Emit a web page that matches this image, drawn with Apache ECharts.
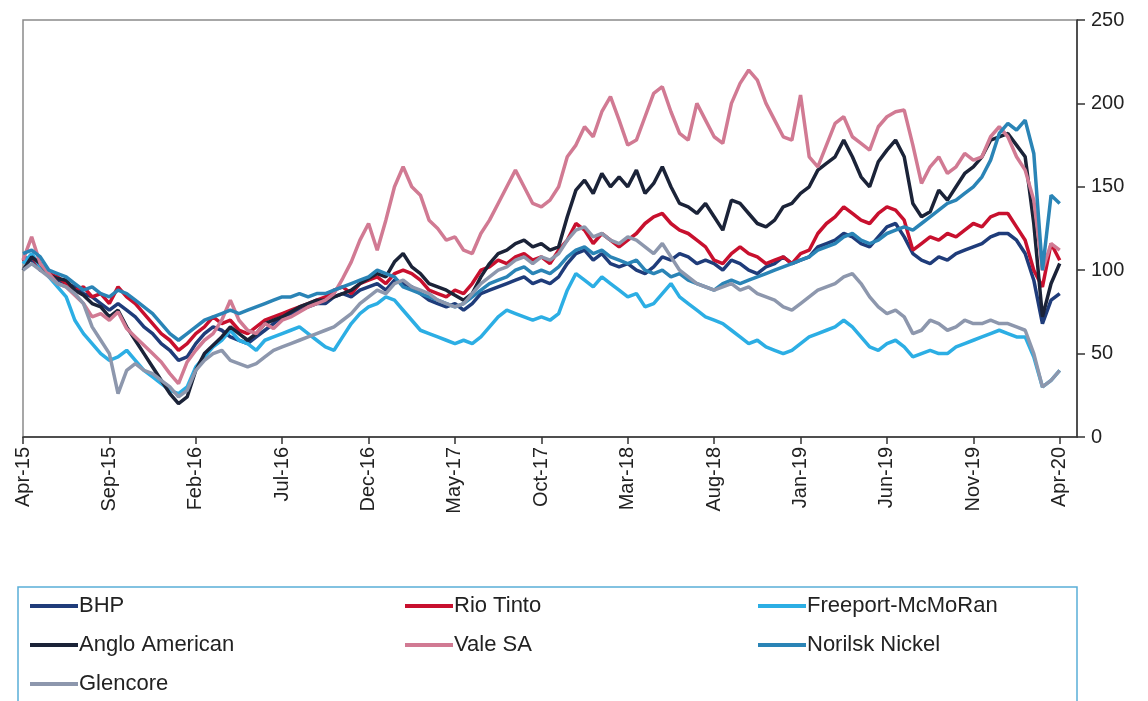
<!DOCTYPE html>
<html>
<head>
<meta charset="utf-8">
<script src="https://cdn.jsdelivr.net/npm/echarts@6/dist/echarts.min.js"></script>
<style>
html,body{margin:0;padding:0;background:#fff;}
#chart{width:1148px;height:701px;}
</style>
</head>
<body>
<div id="chart"></div>
<script>
// Half-month categories from Apr-15 to May-20
const monthNames = ['Jan','Feb','Mar','Apr','May','Jun','Jul','Aug','Sep','Oct','Nov','Dec'];
const categories = [];
for (let k = 0; k <= 122; k++) {
  const mi = 3 + Math.floor(k / 2);
  const yr = 2015 + Math.floor(mi / 12);
  categories.push(monthNames[mi % 12] + '-' + String(yr).slice(2) + (k % 2 ? ' (b)' : ''));
}
const tickLabels = ['Apr-15','Sep-15','Feb-16','Jul-16','Dec-16','May-17','Oct-17','Mar-18','Aug-18','Jan-19','Jun-19','Nov-19','Apr-20'];

const seriesNames = ['BHP','Rio Tinto','Freeport-McMoRan','Anglo American','Vale SA','Norilsk Nickel','Glencore'];

const bhp = [108,106,100,98,94,92,90,86,84,80,76,80,76,72,66,62,56,52,46,48,
  56,62,66,64,60,58,56,60,64,68,72,74,76,78,80,80,84,86,84,88,
  90,92,88,94,92,90,86,82,80,78,80,76,80,86,88,90,92,94,96,92,
  94,92,96,104,110,112,106,110,104,102,104,100,98,102,108,106,110,108,104,106,
  104,100,106,104,100,98,102,104,108,104,106,108,114,116,118,122,120,116,114,120,
  126,128,120,110,106,104,108,106,110,112,114,116,120,122,122,118,110,94,68,82,86];

const rioTinto = [105,108,102,98,96,92,88,90,84,86,80,90,84,80,74,68,62,58,52,56,
  62,66,72,68,70,64,62,66,70,72,74,76,78,80,82,84,88,90,86,92,
  94,96,92,98,100,98,94,88,86,84,88,86,92,100,102,106,104,108,110,106,
  108,104,112,118,128,124,116,122,118,114,118,122,128,132,134,128,124,122,118,114,
  106,104,110,114,110,108,104,106,108,104,110,112,122,128,132,138,134,130,128,134,
  138,136,130,112,116,120,118,122,120,124,128,126,132,134,134,126,118,100,90,116,106];

const freeport = [104,110,102,96,90,84,70,62,56,50,46,48,52,46,40,36,32,28,26,30,
  42,48,54,58,64,58,56,52,58,60,62,64,66,62,58,54,52,60,68,74,
  78,80,84,82,76,70,64,62,60,58,56,58,56,60,66,72,76,74,72,70,
  72,70,74,88,98,94,90,96,92,88,84,86,78,80,86,92,84,80,76,72,
  70,68,64,60,56,58,54,52,50,52,56,60,62,64,66,70,66,60,54,52,
  56,58,54,48,50,52,50,50,54,56,58,60,62,64,62,60,60,48,30,34,40];

const angloAmerican = [100,108,104,97,95,94,88,85,80,78,72,76,66,58,50,42,34,26,20,24,
  40,50,55,60,66,62,58,62,68,70,72,75,78,80,82,82,84,86,88,92,
  95,98,96,105,110,102,98,92,90,88,85,82,86,96,104,110,112,116,118,114,
  116,112,114,132,148,154,146,158,150,156,150,160,146,152,162,150,140,138,134,140,
  132,124,142,140,134,128,126,130,138,140,146,150,160,164,168,178,168,156,150,165,
  172,178,168,140,132,135,148,142,150,158,162,168,178,180,182,175,168,128,72,92,104];

const valeSA = [106,120,104,98,92,90,85,80,72,74,70,75,65,60,55,50,45,38,32,45,
  52,58,62,70,82,70,64,62,68,65,70,72,75,78,80,82,86,95,105,118,
  128,112,130,150,162,150,145,130,125,118,120,112,110,122,130,140,150,160,150,140,
  138,142,150,168,175,186,180,195,204,190,175,178,192,206,210,195,182,178,200,190,
  180,176,200,212,220,214,200,190,180,178,205,168,162,175,188,192,180,176,172,186,
  192,195,196,175,152,162,168,158,162,170,166,168,180,186,180,168,160,142,100,116,112];

const norilsk = [110,112,108,100,98,96,92,88,90,86,84,88,86,82,78,74,68,62,58,62,
  66,70,72,74,76,74,76,78,80,82,84,84,86,84,86,86,88,90,92,94,
  96,100,98,96,90,88,86,84,82,80,78,80,84,88,92,94,96,100,102,98,
  100,98,102,108,112,114,110,112,108,106,104,106,100,98,100,96,98,94,92,90,
  88,92,94,92,94,96,98,100,102,104,106,108,112,114,116,120,122,118,116,118,
  122,124,126,124,128,132,136,140,142,146,150,156,166,182,188,184,190,170,100,145,140];

const glencore = [100,104,100,96,92,90,86,80,66,58,50,26,40,44,40,38,34,30,24,28,
  40,46,50,52,46,44,42,44,48,52,54,56,58,60,62,64,66,70,74,80,
  84,88,86,92,94,90,88,86,82,80,78,80,86,92,96,100,102,106,108,104,
  108,106,110,118,124,126,120,122,118,116,120,118,114,110,116,108,100,96,92,90,
  88,90,92,88,90,86,84,82,78,76,80,84,88,90,92,96,98,92,84,78,
  74,76,72,62,64,70,68,64,66,70,68,68,70,68,68,66,64,50,30,34,40];

const seriesData = [bhp, rioTinto, freeport, angloAmerican, valeSA, norilsk, glencore];
const seriesColors = ['#1F3C7A','#C8102E','#2CAEE4','#1B2338','#D17A93','#2A84B6','#8D97AD'];

const font = "'Liberation Sans', Arial, sans-serif";
const chart = echarts.init(document.getElementById('chart'), null, {renderer: 'canvas'});

const legendStyle = {
  icon: 'rect',
  itemWidth: 48,
  itemHeight: 4,
  orient: 'vertical',
  itemGap: 17,
  padding: 0,
  height: 140,
  textStyle: {fontFamily: font, fontSize: 22, color: '#222', padding: [0, 0, 0, -4]},
  top: 595
};

chart.setOption({
  animation: false,
  backgroundColor: '#fff',
  grid: {left: 23, right: 71, top: 20, bottom: 264, show: true, borderColor: '#8a8a8a', borderWidth: 1.5, backgroundColor: 'transparent'},
  xAxis: {
    type: 'category',
    data: categories,
    boundaryGap: false,
    axisLine: {show: true, lineStyle: {color: '#333', width: 1.5}},
    axisTick: {show: true, length: 7, lineStyle: {color: '#333', width: 1.5}, interval: function (i) { return i % 10 === 0 && i <= 120; }},
    axisLabel: {
      rotate: 90,
      margin: 10,
      fontFamily: font,
      fontSize: 20,
      color: '#222',
      interval: function (i) { return i % 10 === 0 && i <= 120; },
      formatter: function (v, i) { return tickLabels[i / 10]; }
    },
    splitLine: {show: false}
  },
  yAxis: {
    type: 'value',
    position: 'right',
    min: 0, max: 250, interval: 50,
    axisLine: {show: true, lineStyle: {color: '#333', width: 1.5}},
    axisTick: {show: true, length: 8, lineStyle: {color: '#333', width: 1.5}},
    axisLabel: {fontFamily: font, fontSize: 20, color: '#222', margin: 14},
    splitLine: {show: false}
  },
  legend: [
    Object.assign({}, legendStyle, {left: 30, data: ['BHP','Anglo American','Glencore']}),
    Object.assign({}, legendStyle, {left: 405, data: ['Rio Tinto','Vale SA']}),
    Object.assign({}, legendStyle, {left: 758, data: ['Freeport-McMoRan','Norilsk Nickel']})
  ],
  graphic: [{
    type: 'rect',
    shape: {x: 18, y: 587, width: 1059, height: 120},
    style: {fill: 'none', stroke: '#5AAED8', lineWidth: 1.5},
    silent: true
  }],
  series: seriesNames.map((name, k) => ({
    name: name,
    type: 'line',
    data: seriesData[k],
    showSymbol: false,
    symbol: 'none',
    color: seriesColors[k],
    lineStyle: {width: 3.5, color: seriesColors[k]},
    z: 2 + k
  }))
});
</script>
</body>
</html>
